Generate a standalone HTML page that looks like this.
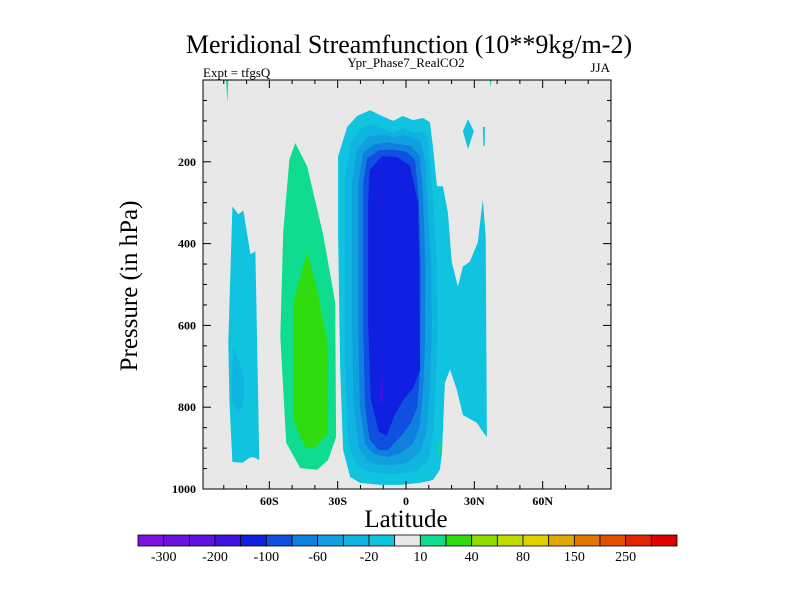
<!DOCTYPE html>
<html><head><meta charset="utf-8"><style>
html,body{margin:0;padding:0;background:#fff;width:800px;height:600px;overflow:hidden}
svg{display:block;font-family:"Liberation Serif",serif}
</style></head><body>
<svg id="chart" width="800" height="600" viewBox="0 0 800 600">
<text x="409" y="53" font-size="26" text-anchor="middle">Meridional Streamfunction (10**9kg/m-2)</text>
<text x="203" y="77" font-size="13">Expt = tfgsQ</text>
<text x="406" y="67" font-size="13" text-anchor="middle">Ypr_Phase7_RealCO2</text>
<text x="610" y="72" font-size="13" text-anchor="end">JJA</text>
<rect x="203" y="80" width="408" height="409" fill="#e8e8e8"/>
<g id="contours"></g>
<g id="axes"></g>
<text transform="translate(137,286) rotate(-90)" font-size="25" text-anchor="middle">Pressure (in hPa)</text>
<text x="406" y="527" font-size="25" text-anchor="middle">Latitude</text>
<g id="colorbar"></g>
</svg>
<script>
const levels = [-300,-250,-200,-150,-100,-80,-60,-40,-20,-10,10,20,40,60,80,100,150,200,250,300];
const levelLabels = ["-300","-200","-100","-60","-20","10","40","80","150","250"];
const fillColors = ["#8010e0","#7010e0","#6010e0","#4010e0","#1020e0","#1050e0","#1080e0","#10a0e0","#10b4e0","#10c4e0","#e8e8e8","#10dc90","#30dc10","#90dc00","#c0dc00","#e0d000","#e0a800","#e07800","#e05000","#e02800","#e00000"];
const xTickValues = [-60,-30,0,30,60];
const xTickLabels = ["60S","30S","0","30N","60N"];
const yTickValues = [200,400,600,800,1000];
const leftStrip = [[-76.2,309],[-73.6,328],[-71.4,319],[-68.3,426],[-66.1,419],[-64.4,929],[-67,922],[-68.8,924],[-71.8,936],[-76.2,934],[-77.5,789],[-78,642]];
const leftStripCore = [[-76,652],[-73,690],[-71,740],[-71.5,800],[-74,814],[-76.5,780]];
const southCell = [[-48.6,154],[-43.4,211],[-36.4,377],[-31.1,544],[-30.7,873],[-34.2,929],[-39,953],[-46.4,949],[-52.6,887],[-55.2,627],[-53.9,373],[-51.2,194]];
const southCellCore = [[-43.4,419],[-39,512],[-34.2,652],[-34.2,863],[-39.9,900],[-44.2,900],[-49.5,831],[-49.5,544]];
const hadleyOuter = [[-29.8,186],[-25.8,115],[-21.5,88],[-15.8,74],[-10.5,88],[-5.7,100],[-1.3,88],[3.1,98],[7.4,93],[10.5,103],[11.8,162],[13.6,260],[16.2,260],[18.4,324],[20.1,446],[22.8,505],[25,456],[28,444],[31.5,397],[33.7,292],[35,382],[35.5,873],[33.7,860],[31.1,838],[25,819],[22.3,757],[19.3,708],[17.1,740],[15.8,912],[14.9,953],[11.8,978],[6.1,985],[-2.6,990],[-11.4,990],[-20.1,985],[-24.5,971],[-27.6,904],[-28.9,708],[-29.8,382]];
const hadley40 = [[-26.7,230],[-24,150],[-20,120],[-15.8,108],[-10.5,118],[-5.7,128],[-1.3,118],[3.1,128],[7.4,125],[9.5,140],[10.5,200],[12,300],[13.5,450],[14,600],[13,750],[12,860],[10,930],[5,955],[-2.6,962],[-11.4,962],[-18,955],[-22.5,935],[-25.5,880],[-26.7,700]];
const hadley60 = [[-23.7,250],[-21.5,170],[-17,140],[-11,132],[-5.5,140],[-1,134],[3,142],[6.5,150],[8.5,200],[9.5,300],[11,450],[11.4,600],[10.5,760],[9,860],[6,910],[1,935],[-5,942],[-12,941],[-17,930],[-20.5,900],[-23,800],[-23.7,600]];
const hadley80 = [[-21,260],[-19,180],[-14,157],[-8,152],[-2,158],[2,160],[6,185],[7.5,280],[8.5,450],[8.3,650],[7.5,760],[6,850],[3,890],[-2,912],[-8,922],[-14,915],[-18,890],[-20.3,800],[-21,600]];
const hadley100 = [[-18.8,250],[-17,190],[-12,172],[-6,170],[0,175],[4,195],[5.5,280],[6.5,450],[6.2,700],[5,800],[2,840],[-2,870],[-8,905],[-12,905],[-16,880],[-18,800],[-18.8,600]];
const hadley150 = [[-16.6,300],[-16,220],[-10.5,186],[-4,188],[1.8,210],[5.3,300],[5.8,450],[6.2,710],[3,755],[-1,780],[-5,820],[-8.5,870],[-12,860],[-15.5,780],[-16.6,600]];
const hadleyMin = [[-10.5,710],[-11.2,760],[-11.8,785],[-10.3,790],[-10,760]];
const nhDiamond = [[27.2,96],[25,125],[27.2,169],[29.8,125]];
const nhSpike = [[33.7,115],[34.6,115],[34.6,160],[34,162]];
const speckTopLeft = [[-79,0],[-78,0],[-78.4,55]];
const speckTopRight = [[36.8,0],[37.6,0],[37.1,18]];
const speckLow = [[14,885],[15.8,900],[14.3,922]];
const regions = [
 ["left-strip",9,leftStrip],["left-strip-core",8,leftStripCore],
 ["south-cell",11,southCell],["south-cell-core",12,southCellCore],
 ["hadley-cell-outer",9,hadleyOuter],["hadley-cell-40",8,hadley40],["hadley-cell-60",7,hadley60],
 ["hadley-cell-80",6,hadley80],["hadley-cell-100",5,hadley100],["hadley-cell-150",4,hadley150],["hadley-cell-min",3,hadleyMin],
 ["nh-diamond",9,nhDiamond],["nh-spike",9,nhSpike],["speck-top-left",11,speckTopLeft],["speck-top-right",11,speckTopRight],["speck-low",11,speckLow]
];
const NS="http://www.w3.org/2000/svg";
const X0=203,X1=611,Y0=80,Y1=489;
function xs(lat){return 406+lat*(X1-406)/90;}
function ys(p){return Y0+p*(Y1-Y0)/1000;}
const cg=document.getElementById('contours');
regions.forEach(r=>{
 const pg=document.createElementNS(NS,'polygon');
 pg.setAttribute('points',r[2].map(q=>xs(q[0]).toFixed(1)+','+ys(q[1]).toFixed(1)).join(' '));
 pg.setAttribute('fill',fillColors[r[1]]);
 
 
 cg.appendChild(pg);
});
const ag=document.getElementById('axes');
function line(x1,y1,x2,y2,name){const l=document.createElementNS(NS,'line');l.setAttribute('x1',x1);l.setAttribute('y1',y1);l.setAttribute('x2',x2);l.setAttribute('y2',y2);l.setAttribute('stroke','#000');l.setAttribute('stroke-width','1');
 
 
 ag.appendChild(l);}
function text(x,y,s,anchor,name){const t=document.createElementNS(NS,'text');t.setAttribute('x',x);t.setAttribute('y',y);t.setAttribute('font-size','12');t.setAttribute('font-weight','bold');t.setAttribute('text-anchor',anchor);t.textContent=s;
 
 
 ag.appendChild(t);}
for(let lat=-80;lat<=80;lat+=10){const x=xs(lat),mj=lat%30===0;
 line(x,Y1,x,Y1-(mj?8:4),'x-tick');line(x,Y0,x,Y0+(mj?8:4),'x-tick-top');}
for(let p=50;p<1000;p+=50){const y=ys(p),mj=p%200===0;
 line(X0,y,X0+(mj?8:4),y,'y-tick');line(X1,y,X1-(mj?8:4),y,'y-tick-right');}
xTickValues.forEach((v,i)=>text(xs(v),505,xTickLabels[i],'middle','x-tick-label'));
yTickValues.forEach(v=>text(196,ys(v)+4,String(v),'end','y-tick-label'));
const fr=document.createElementNS(NS,'rect');fr.setAttribute('x',X0);fr.setAttribute('y',Y0);fr.setAttribute('width',X1-X0);fr.setAttribute('height',Y1-Y0);fr.setAttribute('fill','none');fr.setAttribute('stroke','#000');


ag.appendChild(fr);
const cb=document.getElementById('colorbar');
const CB0=138,CB1=677,bw=(CB1-CB0)/fillColors.length;
fillColors.forEach((c,i)=>{const r=document.createElementNS(NS,'rect');r.setAttribute('x',CB0+i*bw);r.setAttribute('y',535);r.setAttribute('width',bw);r.setAttribute('height',11);r.setAttribute('fill',c);r.setAttribute('stroke','#000');r.setAttribute('stroke-width','0.8');
 
 
 cb.appendChild(r);});
levels.forEach((v,i)=>{if(i%2)return;const t=document.createElementNS(NS,'text');t.setAttribute('x',CB0+(i+1)*bw);t.setAttribute('y',561);t.setAttribute('font-size','14');t.setAttribute('text-anchor','middle');t.textContent=levelLabels[i/2];
 
 
 cb.appendChild(t);});
</script>
</body></html>
